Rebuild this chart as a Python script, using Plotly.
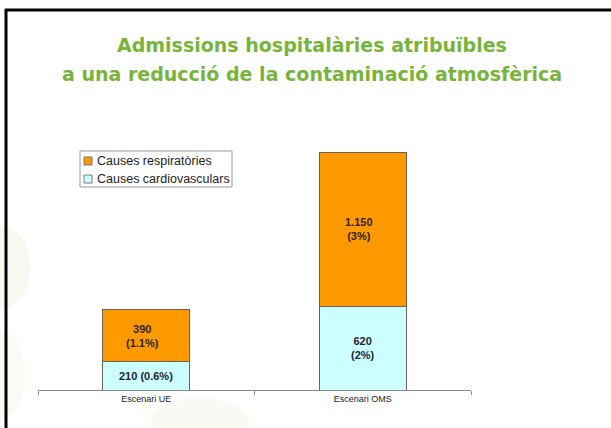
import plotly.graph_objects as go

categories = ["Escenari UE", "Escenari OMS"]
cardio_values = [210, 620]
resp_values = [390, 1150]
cardio_labels = ["210 (0.6%)", "620<br>(2%)"]
resp_labels = ["390<br>(1.1%)", "1.150<br>(3%)"]
series_names = ["Causes cardiovasculars", "Causes respiratòries"]
series_colors = ["#CCFFFF", "#FF9900"]
title_lines = ["Admissions hospitalàries atribuïbles",
               "a una reducció de la contaminació atmosfèrica"]

W, H = 611, 428
L, R, T, B = 38, 140, 148, 38
YMAX = 1800
OUTLINE = "#6e6250"

fig = go.Figure()
for vals, name, col in [(cardio_values, series_names[0], series_colors[0]),
                        (resp_values, series_names[1], series_colors[1])]:
    fig.add_trace(go.Bar(
        x=categories, y=vals, name=name,
        marker=dict(color=col, line=dict(color=OUTLINE, width=1)),
        width=0.4, showlegend=False, hoverinfo="skip",
    ))

plot_w = W - L - R
plot_h = H - T - B
def px_x(p):
    return (p - L) / plot_w
def px_y(p):
    return (H - B - p) / plot_h

annots = []
for i, c in enumerate(categories):
    annots.append(dict(x=c, y=cardio_values[i] / 2, xref="x", yref="y",
                       text="<b>%s</b>" % cardio_labels[i], showarrow=False,
                       align="center", font=dict(size=11, color="#24242c",
                                                 family="Liberation Sans")))
    annots.append(dict(x=c, y=cardio_values[i] + resp_values[i] / 2, xref="x", yref="y",
                       text="<b>%s</b>" % resp_labels[i], showarrow=False,
                       align="center", xshift=-4,
                       font=dict(size=11, color="#33220c", family="Liberation Sans")))

title_y = [45, 74]
for i, t in enumerate(title_lines):
    annots.append(dict(x=px_x(312), y=px_y(title_y[i]), xref="paper", yref="paper",
                       text="<b>%s</b>" % t, showarrow=False, xanchor="center",
                       yanchor="middle",
                       font=dict(size=19, color="#78b43c", family="DejaVu Sans")))

shapes = []
# faint background decoration
for (x0, y0, x1, y1, col, op) in [(-30, 225, 30, 310, "#c8dcae", 0.18),
                                  (-25, 330, 25, 420, "#d4e6bc", 0.15),
                                  (150, 398, 250, 450, "#d6ebbf", 0.18)]:
    shapes.append(dict(type="circle", xref="paper", yref="paper", layer="below",
                       x0=px_x(x0), x1=px_x(x1), y0=px_y(y1), y1=px_y(y0),
                       fillcolor=col, opacity=op, line=dict(width=0)))

# frame
shapes.append(dict(type="line", xref="paper", yref="paper", x0=px_x(5), x1=px_x(611),
                   y0=px_y(10), y1=px_y(10), line=dict(color="black", width=3)))
shapes.append(dict(type="line", xref="paper", yref="paper", x0=px_x(6), x1=px_x(6),
                   y0=px_y(9), y1=px_y(428), line=dict(color="black", width=3)))

# custom legend
leg_x0, leg_x1, leg_y0, leg_y1 = 80, 232, 151, 187
shapes.append(dict(type="rect", xref="paper", yref="paper",
                   x0=px_x(leg_x0), x1=px_x(leg_x1), y0=px_y(leg_y1), y1=px_y(leg_y0),
                   fillcolor="white", line=dict(color="#9a9a9a", width=1)))
legend_order = [1, 0]
legend_rows = [161, 179]
for row, idx in zip(legend_rows, legend_order):
    shapes.append(dict(type="rect", xref="paper", yref="paper",
                       x0=px_x(84), x1=px_x(92), y0=px_y(row + 4), y1=px_y(row - 4),
                       fillcolor=series_colors[idx], line=dict(color="#7a7a7a", width=1)))
    annots.append(dict(x=px_x(95), y=px_y(row), xref="paper", yref="paper",
                       text=series_names[idx], showarrow=False, xanchor="left",
                       yanchor="middle",
                       font=dict(size=12.5, color="#222222", family="Liberation Sans")))

fig.update_layout(
    width=W, height=H,
    margin=dict(l=L, r=R, t=T, b=B),
    barmode="stack",
    paper_bgcolor="white", plot_bgcolor="rgba(0,0,0,0)",
    annotations=annots, shapes=shapes,
    showlegend=False,
    hovermode=False,
    xaxis=dict(type="category", range=[-0.5, 1.5], showline=True,
               linecolor="#8a8a8a", linewidth=1, ticks="outside",
               tickson="boundaries", ticklen=4, tickcolor="#8a8a8a",
               showgrid=False, tickfont=dict(size=9, color="#1a1a1a",
                                             family="Liberation Sans")),
    yaxis=dict(range=[0, YMAX], visible=False, showgrid=False),
)

fig.write_html("out.html", config={"displayModeBar": False},
               post_script="document.body.style.margin='0';")
